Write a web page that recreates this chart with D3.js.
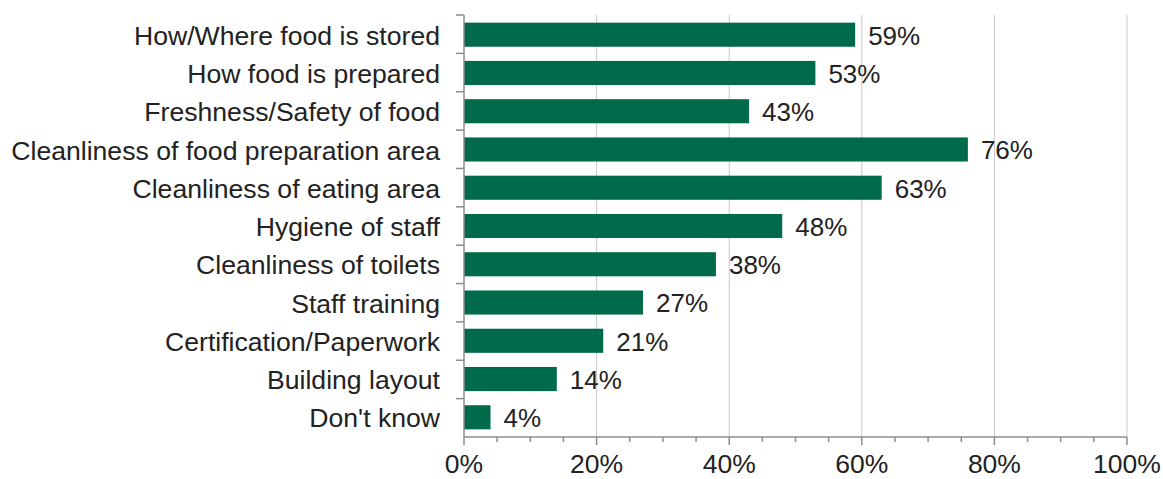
<!DOCTYPE html>
<html>
<head>
<meta charset="utf-8">
<script src="https://cdn.jsdelivr.net/npm/d3@7"></script>
<style>
  html, body { margin: 0; padding: 0; background: #fff; }
  svg { display: block; }
  text { font-family: "Liberation Sans", Arial, sans-serif; fill: #222; }
</style>
</head>
<body>
<svg id="chart" width="1163" height="479"></svg>
<script>
// Aspects of food hygiene considered, share of respondents
const categories = [
  "How/Where food is stored",
  "How food is prepared",
  "Freshness/Safety of food",
  "Cleanliness of food preparation area",
  "Cleanliness of eating area",
  "Hygiene of staff",
  "Cleanliness of toilets",
  "Staff training",
  "Certification/Paperwork",
  "Building layout",
  "Don't know"
];
const values = [59, 53, 43, 76, 63, 48, 38, 27, 21, 14, 4];
const majorTicks = [0, 20, 40, 60, 80, 100];
const minorTicks = [5, 10, 15, 25, 30, 35, 45, 50, 55, 65, 70, 75, 85, 90, 95];

const svg = d3.select("#chart");
const plotLeft = 464, plotRight = 1127, plotTop = 15, plotBottom = 437;

const x = d3.scaleLinear().domain([0, 100]).range([plotLeft, plotRight]);
const y = d3.scaleBand().domain(categories).range([plotTop, plotBottom]).paddingInner(0.37).paddingOuter(0.2);

const axisColor = "#8c8c8c";

// vertical gridlines
svg.append("g").selectAll("line")
  .data(majorTicks.filter(d => d > 0))
  .join("line")
  .attr("x1", d => x(d)).attr("x2", d => x(d))
  .attr("y1", plotTop).attr("y2", plotBottom)
  .attr("stroke", "#c8c8c8").attr("stroke-width", 1);

// bars
svg.append("g").selectAll("rect")
  .data(values)
  .join("rect")
  .attr("x", x(0))
  .attr("y", (d, i) => y(categories[i]))
  .attr("width", d => x(d) - x(0))
  .attr("height", y.bandwidth())
  .attr("fill", "#006b4b");

// value labels
svg.append("g").selectAll("text")
  .data(values)
  .join("text")
  .attr("x", d => x(d) + 13)
  .attr("y", (d, i) => y(categories[i]) + y.bandwidth() / 2)
  .attr("dy", "0.38em")
  .attr("font-size", 26)
  .text(d => d + "%");

// category axis
const yAxis = svg.append("g");
yAxis.append("line")
  .attr("x1", plotLeft).attr("x2", plotLeft).attr("y1", plotTop).attr("y2", plotBottom)
  .attr("stroke", axisColor).attr("stroke-width", 1.5);
const boundaries = d3.range(categories.length).map(i => plotTop + i * (plotBottom - plotTop) / categories.length);
yAxis.selectAll("line.tick")
  .data(boundaries)
  .join("line")
  .attr("class", "tick")
  .attr("x1", plotLeft - 8).attr("x2", plotLeft)
  .attr("y1", d => d).attr("y2", d => d)
  .attr("stroke", axisColor).attr("stroke-width", 1.5);
yAxis.selectAll("text")
  .data(categories)
  .join("text")
  .attr("x", 440)
  .attr("y", d => y(d) + y.bandwidth() / 2)
  .attr("dy", "0.38em")
  .attr("text-anchor", "end")
  .attr("font-size", 26.6)
  .text(d => d);

// value axis
const xAxis = svg.append("g");
xAxis.append("line")
  .attr("x1", plotLeft).attr("x2", plotRight).attr("y1", plotBottom).attr("y2", plotBottom)
  .attr("stroke", axisColor).attr("stroke-width", 1.5);
xAxis.selectAll("line.minor")
  .data(minorTicks)
  .join("line")
  .attr("class", "minor")
  .attr("x1", d => x(d)).attr("x2", d => x(d))
  .attr("y1", plotBottom).attr("y2", plotBottom + 5)
  .attr("stroke", axisColor).attr("stroke-width", 1.5);
xAxis.selectAll("line.major")
  .data(majorTicks)
  .join("line")
  .attr("class", "major")
  .attr("x1", d => x(d)).attr("x2", d => x(d))
  .attr("y1", plotBottom).attr("y2", plotBottom + 8)
  .attr("stroke", axisColor).attr("stroke-width", 1.5);
xAxis.selectAll("text")
  .data(majorTicks)
  .join("text")
  .attr("x", d => x(d))
  .attr("y", 473)
  .attr("text-anchor", "middle")
  .attr("font-size", 26.5)
  .text(d => d + "%");
</script>
</body>
</html>
